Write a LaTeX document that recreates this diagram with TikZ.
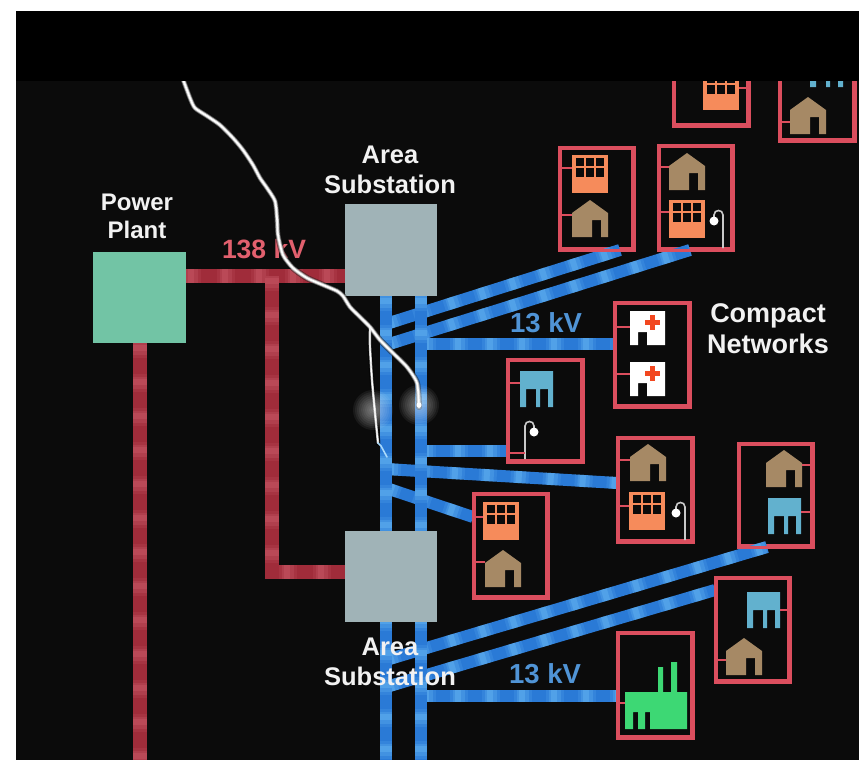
\documentclass[tikz,border=0pt]{standalone}
\usepackage{fontspec}
\setmainfont{Liberation Sans}
\definecolor{bgc}{HTML}{0B0B0B}
\definecolor{plantc}{HTML}{72C4A5}
\definecolor{subc}{HTML}{A0B3B7}
\definecolor{redc}{HTML}{A02C3A}
\definecolor{redhi}{HTML}{D46876}
\definecolor{bluec}{HTML}{2A7AD6}
\definecolor{bluehi}{HTML}{70C0F8}
\definecolor{boxc}{HTML}{DB4E5E}
\definecolor{officec}{HTML}{F68B5B}
\definecolor{housec}{HTML}{A68965}
\definecolor{tankc}{HTML}{62B1CE}
\definecolor{crossc}{HTML}{F2471F}
\definecolor{factc}{HTML}{3DD874}
\definecolor{lampc}{HTML}{C9C9C9}
\definecolor{hvtext}{HTML}{E2606E}
\definecolor{mvtext}{HTML}{5094D6}
\newcommand\lblfont[2]{\fontsize{#1}{#2}\selectfont\bfseries}
% network box given by its outer edges: name, x1, y1, x2, y2
\newcommand\netbox[5]{\node[netbox, minimum width={#4-#2-3}, minimum height={#5-#3-3}] (#1) at ({(#2+#4)/2},{(#3+#5)/2}) {};}
\begin{document}
\begin{tikzpicture}[x=1pt,y=-1pt,
  redbus/.style={draw=redc, line width=14pt, line join=miter,
    postaction={draw=redhi, line width=14pt, opacity=0.28, dash pattern=on 6pt off 28pt, dash phase=-2pt},
    postaction={draw=redhi, line width=14pt, opacity=0.22, dash pattern=on 12pt off 22pt},
    postaction={draw=redhi, line width=14pt, opacity=0.14, dash pattern=on 18pt off 16pt, dash phase=3pt}},
  bluebus/.style={draw=bluec, line width=12pt,
    postaction={draw=bluehi, line width=12pt, opacity=0.32, dash pattern=on 6pt off 26pt, dash phase=-2pt},
    postaction={draw=bluehi, line width=12pt, opacity=0.25, dash pattern=on 12pt off 20pt},
    postaction={draw=bluehi, line width=12pt, opacity=0.15, dash pattern=on 18pt off 14pt, dash phase=3pt}},
  netbox/.style={draw=boxc, line width=3pt, inner sep=0pt},
  stub/.style={draw=boxc, line width=2.5pt},
  blockbox/.style={inner sep=0pt},
  lbl/.style={text=white!95!black, align=center, anchor=base, inner sep=0pt},
  pics/house/.style={code={
    \fill[housec] (0,13) -- (18,0) -- (36,13) -- (36,37) -- (29,37) -- (29,20) -- (20,20) -- (20,37) -- (0,37) -- cycle;}},
  pics/office/.style={code={
    \fill[officec] (0,0) rectangle (36,38);
    \foreach \c in {0,1,2}{\foreach \r in {0,1}{
      \fill[bgc] ({4+10*\c},{2.5+10.5*\r}) rectangle ++(8,8.5);}}}},
  pics/tank/.style={code={
    \fill[tankc] (0,0) -- (33,0) -- (33,36) -- (28,36) -- (28,18) -- (20,18) -- (20,36) -- (16,36) -- (16,18) -- (6,18) -- (6,36) -- (0,36) -- cycle;}},
  pics/hospital/.style={code={
    \fill[white] (0,0) -- (35,0) -- (35,34) -- (17,34) -- (17,21) -- (8,21) -- (8,34) -- (0,34) -- cycle;
    \fill[crossc] (14.5,8.5) rectangle (29.5,13.5);
    \fill[crossc] (19.5,3.5) rectangle (24.5,18.5);}},
  pics/factory/.style={code={
    \fill[factc] (0,0) -- (33,0) -- (33,-25) -- (38,-25) -- (38,0) -- (46,0) -- (46,-30) -- (52,-30) -- (52,0) -- (62,0) -- (62,37) -- (25,37) -- (25,20) -- (20,20) -- (20,37) -- (13,37) -- (13,20) -- (8,20) -- (8,37) -- (0,37) -- cycle;}},
  pics/lamp/.style={code={
    \draw[lampc, line width=1.6pt] (0,0) -- (0,-33) .. controls (0,-39) and ({9*#1},-39) .. ({9*#1},-33) -- ({9*#1},-30);
    \fill[white] ({9*#1},-27) circle[radius=4.5pt];}}
]
\useasboundingbox (0,0) rectangle (859,760);
\fill[white] (0,0) rectangle (859,760);
\fill[bgc] (16,11) rectangle (859,760);

% stations
\node[blockbox, fill=plantc, minimum width=93, minimum height=91] (plant) at (139.5,297.5) {};
\node[blockbox, fill=subc, minimum width=92, minimum height=92] (sub1) at (391,250) {};
\node[blockbox, fill=subc, minimum width=92, minimum height=91] (sub2) at (391,576.5) {};

% network boxes
\netbox{boxA}{673}{40}{749}{126}
\netbox{boxB}{779}{40}{855}{141}
\netbox{boxC}{559}{147}{634}{250}
\netbox{boxD}{658}{145}{733}{250}
\netbox{boxE}{614}{302}{690}{407}
\netbox{boxF}{507}{359}{583}{462}
\netbox{boxG}{617}{437}{693}{542}
\netbox{boxH}{738}{443}{813}{547}
\netbox{boxI}{473}{493}{548}{598}
\netbox{boxJ}{715}{577}{790}{682}
\netbox{boxK}{617}{632}{693}{738}

% 138 kV transmission
\coordinate (rj) at (272,276);
\coordinate (rk) at (272,572);
\coordinate (pbot) at (140,760);
\draw[redbus] (rj -| plant.east) -- (rj -| sub1.west);
\draw[redbus] (rj) -- (rk) -- (rk -| sub2.west);
\draw[redbus] (pbot |- plant.south) -- (pbot);

% 13 kV feeders
\coordinate (b1) at (386,324);
\coordinate (b2) at (386,345);
\coordinate (b3) at (421,344);
\coordinate (b4) at (421,451);
\coordinate (b5) at (386,469);
\coordinate (b6) at (386,488);
\coordinate (b7) at (386,660);
\coordinate (b8) at (386,687);
\coordinate (b9) at (421,696);
\draw[bluebus] (b1) -- ([xshift=23.5pt]boxC.south);
\draw[bluebus] (b2) -- ([xshift=-5.5pt]boxD.south);
\draw[bluebus] (b3) -- (b3 -| boxE.west);
\draw[bluebus] (b4) -- (b4 -| boxF.west);
\draw[bluebus] (b5) -- ([yshift=6.5pt]boxG.west);
\draw[bluebus] (b6) -- ([yshift=28.5pt]boxI.west);
\draw[bluebus] (b7) -- ([xshift=-8.5pt]boxH.south);
\draw[bluebus] (b8) -- ([yshift=39.5pt]boxJ.west);
\draw[bluebus] (b9) -- (b9 -| boxK.west);

% 13 kV buses
\coordinate (bL) at (386,760);
\coordinate (bR) at (421,760);
\draw[bluebus] (bL |- sub1.south) -- (bL);
\draw[bluebus] (bR |- sub1.south) -- (bR);

% stations drawn again over the buses
\fill[subc] (sub1.north west) rectangle (sub1.south east);
\fill[subc] (sub2.north west) rectangle (sub2.south east);
\fill[plantc] (plant.north west) rectangle (plant.south east);

% box outlines over the feeder ends
\foreach \b in {boxA,boxB,boxC,boxD,boxE,boxF,boxG,boxH,boxI,boxJ,boxK}
  \draw[boxc, line width=3pt] (\b.north west) rectangle (\b.south east);

% loads
\pic at (703,72) {office};
\draw[stub] (boxA.east |- 0,88) -- (739,88);
\pic at (810,51) {tank};
\pic at (790,97) {house};
\draw[stub] (boxB.west |- 0,122) -- (790,122);

\pic at (572,155) {office};
\pic at (572,200) {house};
\draw[stub] (boxC.west |- 0,168) -- (572,168);
\draw[stub] (boxC.west |- 0,215) -- (572,215);

\pic at (669,153) {house};
\pic at (669,200) {office};
\pic at (723,248) {lamp=-1};
\draw[stub] (boxD.west |- 0,167) -- (669,167);
\draw[stub] (boxD.west |- 0,212) -- (669,212);

\pic at (630,311) {hospital};
\pic at (630,362) {hospital};
\draw[stub] (boxE.west |- 0,327) -- (630,327);
\draw[stub] (boxE.west |- 0,374) -- (630,374);

\pic at (520,371) {tank};
\pic at (525,459) {lamp=1};
\draw[stub] (boxF.west |- 0,383) -- (520,383);
\draw[stub] (boxF.west |- 0,453) -- (525,453);

\pic at (630,444) {house};
\pic at (629,492) {office};
\pic at (685,540) {lamp=-1};
\draw[stub] (boxG.west |- 0,460) -- (630,460);
\draw[stub] (boxG.west |- 0,506) -- (629,506);

\pic at (766,450) {house};
\pic at (768,498) {tank};
\draw[stub] (boxH.east |- 0,465) -- (802,465);
\draw[stub] (boxH.east |- 0,512) -- (801,512);

\pic at (483,502) {office};
\pic at (485,550) {house};
\draw[stub] (boxI.west |- 0,517) -- (483,517);
\draw[stub] (boxI.west |- 0,562) -- (485,562);

\pic at (747,592) {tank};
\pic at (726,638) {house};
\draw[stub] (boxJ.east |- 0,610) -- (780,610);
\draw[stub] (boxJ.west |- 0,660) -- (726,660);

\pic at (625,692) {factory};
\draw[stub] (boxK.west |- 0,703) -- (625,703);

% labels (base anchor sits on the last line)
\node[lbl, font=\lblfont{24}{28}] (plantlbl) at (137,238) {Power\\Plant};
\node[lbl, font=\lblfont{25.5}{30}] (sub1lbl) at (390,193) {Area\\Substation};
\node[lbl, font=\lblfont{25.5}{30}] (sub2lbl) at (390,685) {Area\\Substation};
\node[lbl, font=\lblfont{26.5}{30}, text=hvtext] (hvlbl) at (264,258) {138 kV};
\node[lbl, font=\lblfont{27.5}{30}, text=mvtext] (mv1lbl) at (546,332) {13 kV};
\node[lbl, font=\lblfont{27.5}{30}, text=mvtext] (mv2lbl) at (545,683) {13 kV};
\node[lbl, font=\lblfont{27}{31}] (cnlbl) at (768,353) {Compact\\Networks};

% lightning strike
\def\boltmain{(181,74) (190,98) (195,108) (207,116) (220,125) (233,138) (243,150) (253,165) (260,178) (267,188) (275,201) (277,218) (278,235) (283,255) (293,268) (307,278) (323,285) (337,291) (343,296) (350,307) (360,317) (370,327) (380,340) (393,353) (407,367) (417,383) (419,407)}
\def\boltfork{(370,327) (370,347) (372,380) (375,413) (378,443)}
\draw[black, opacity=0.5, line width=6pt, line cap=round] plot[smooth, tension=0.4] coordinates {\boltmain};
\draw[black, opacity=0.5, line width=5pt, line cap=round] plot[smooth, tension=0.4] coordinates {\boltfork};
\draw[white, opacity=0.25, line width=5pt, line cap=round] plot[smooth, tension=0.4] coordinates {\boltmain};
\draw[white!75!black, line width=3.4pt, line cap=round] plot[smooth, tension=0.4] coordinates {\boltmain};
\draw[white!75!black, line width=2.4pt, line cap=round] plot[smooth, tension=0.4] coordinates {\boltfork};
\draw[white, line width=1.7pt, line cap=round] plot[smooth, tension=0.4] coordinates {\boltmain};
\draw[white, line width=1.1pt, line cap=round] plot[smooth, tension=0.4] coordinates {\boltfork};
\draw[bluehi!60!white, line width=1.6pt, line cap=round] (378,443) -- (381,446) -- (387,457);
\foreach \r in {2,4,...,20}{
  \fill[white, opacity=0.06] (373,410) circle[radius=\r pt];
  \fill[white, opacity=0.06] (419,405) circle[radius=\r pt];
}
\fill[white] (419,405) circle[radius=2.5pt];

% top band
\fill[black] (16,11) rectangle (859,81);
\end{tikzpicture}
\end{document}
